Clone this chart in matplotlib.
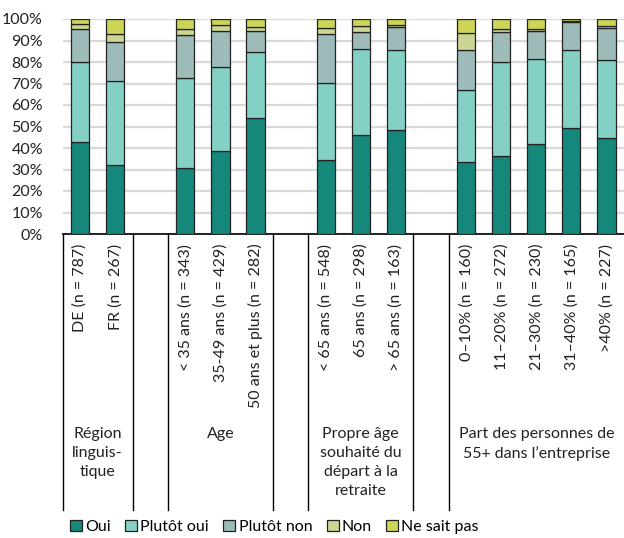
import matplotlib.pyplot as plt
import numpy as np

plt.rcParams['font.family'] = ['Lato', 'DejaVu Sans']

# bar labels, one per slot; None = empty slot between groups
labels = ["DE (n = 787)", "FR (n = 267)", None,
          "< 35 ans (n = 343)", "35-49 ans (n = 429)", "50 ans et plus (n = 282)", None,
          "< 65 ans (n = 548)", "65 ans (n = 298)", "> 65 ans (n = 163)", None,
          "0\u201310% (n = 160)", "11\u201320% (n = 272)", "21\u201330% (n = 230)",
          "31\u201340% (n = 165)", ">40% (n = 227)"]

oui         = [42.9, 32.0, 30.7, 38.7, 54.0, 34.4, 46.0, 48.6, 33.3, 36.5, 42.0, 49.2, 44.7]
plutot_oui  = [37.3, 39.2, 41.9, 38.9, 30.5, 36.0, 39.9, 36.8, 33.7, 43.4, 39.4, 36.2, 36.0]
plutot_non  = [15.3, 18.3, 19.8, 17.0, 10.1, 22.8, 8.1, 11.0, 18.8, 14.1, 13.0, 13.1, 15.1]
non         = [2.2, 3.5, 2.8, 2.8, 1.8, 2.8, 2.7, 0.7, 7.5, 1.4, 1.0, 0.6, 0.8]
ne_sait_pas = [2.3, 7.0, 4.8, 2.6, 3.6, 4.0, 3.3, 2.9, 6.7, 4.6, 4.6, 0.9, 3.4]

series = ["Oui", "Plutôt oui", "Plutôt non", "Non", "Ne sait pas"]
colors = ["#16877b", "#84d0c4", "#9dbbb9", "#ccd592", "#ccd556"]

groups = ["Région\nlinguis-\ntique", "Age", "Propre âge\nsouhaité du\ndépart à la\nretraite",
          "Part des personnes de\n55+ dans l\u2019entreprise"]
group_spans = [(-0.5, 1.5), (2.5, 5.5), (6.5, 9.5), (10.5, 15.5)]

fig = plt.figure(figsize=(6.24, 5.38), dpi=100)
ax = fig.add_axes([62.5 / 624, 1 - 234 / 538, 1 - 62.5 / 624, 215 / 538])

pos = np.array([i for i, l in enumerate(labels) if l is not None])
bottom = np.zeros(len(pos))
handles = []
for name, vals, col in zip(series, [oui, plutot_oui, plutot_non, non, ne_sait_pas], colors):
    b = ax.bar(pos, vals, 0.52, bottom=bottom, color=col, edgecolor="#222222",
               linewidth=0.9, label=name, zorder=3)
    handles.append(b)
    bottom += np.array(vals)

ax.set_xlim(-0.5, 15.5)
ax.set_ylim(0, 100)
ax.set_yticks(np.arange(0, 101, 10))
ax.set_yticklabels([f"{v}%" for v in range(0, 101, 10)], fontsize=11.5, color="#222222")
ax.yaxis.grid(True, color="#d9d9d9", linewidth=1.6, zorder=0)
ax.set_axisbelow(True)
ax.tick_params(axis="y", length=0, pad=14)

ax.set_xticks(pos)
ax.set_xticklabels([labels[i] for i in pos], rotation=90, fontsize=11.5, color="#222222")
ax.tick_params(axis="x", length=0, pad=7)

for s in ["top", "right", "left"]:
    ax.spines[s].set_visible(False)
ax.spines["bottom"].set_linewidth(1.2)
ax.spines["bottom"].set_color("black")

# group separators and group names under the axis
low = -(510 - 234) / 215
edges = [-0.5, 1.5, 2.5, 5.5, 6.5, 9.5, 10.5]
for x in edges:
    ax.plot([x, x], [0, low * 100], color="black", linewidth=1.0,
            clip_on=False, zorder=4)
for name, (a, b) in zip(groups, group_spans):
    ax.text((a + b) / 2, -(427 - 234) / 215 * 100, name, ha="center", va="top",
            fontsize=11.5, linespacing=1.45, color="#222222")

fig.legend(handles=handles, labels=series, loc="center left",
           bbox_to_anchor=(70 / 624, 1 - 527 / 538), ncol=5, frameon=False,
           fontsize=11.5, handlelength=0.75, handleheight=0.75, handletextpad=0.2,
           columnspacing=0.9, borderaxespad=0, borderpad=0)

fig.savefig("out.png", dpi=100)
